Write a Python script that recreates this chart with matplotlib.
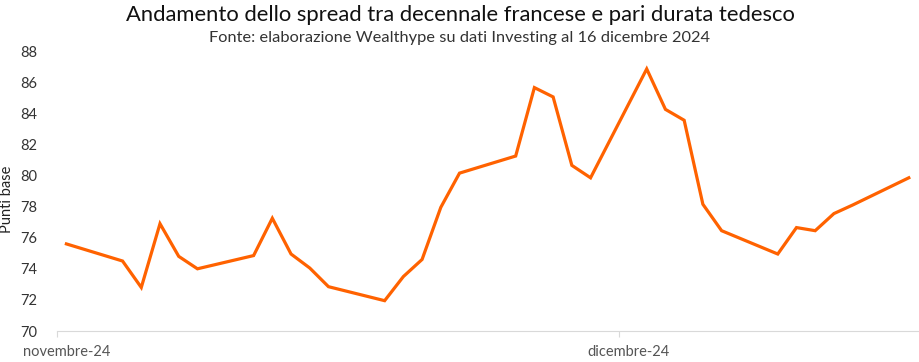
import numpy as np
import matplotlib.pyplot as plt
import matplotlib.dates as mdates

# business days, Nov 1 - Dec 16 2024
dates = np.array([
    "2024-11-01", "2024-11-04", "2024-11-05", "2024-11-06", "2024-11-07", "2024-11-08",
    "2024-11-11", "2024-11-12", "2024-11-13", "2024-11-14", "2024-11-15",
    "2024-11-18", "2024-11-19", "2024-11-20", "2024-11-21", "2024-11-22",
    "2024-11-25", "2024-11-26", "2024-11-27", "2024-11-28", "2024-11-29",
    "2024-12-02", "2024-12-03", "2024-12-04", "2024-12-05", "2024-12-06",
    "2024-12-09", "2024-12-10", "2024-12-11", "2024-12-12", "2024-12-13",
    "2024-12-16",
], dtype="datetime64[D]")
spread = [
    75.6, 74.5, 72.8, 76.9, 74.8, 74.0,
    74.85, 77.25, 74.95, 74.05, 72.85,
    71.95, 73.5, 74.6, 77.95, 80.15,
    81.25, 85.65, 85.05, 80.65, 79.85,
    86.85, 84.25, 83.55, 78.15, 76.45,
    74.95, 76.65, 76.45, 77.55, 78.1,
    79.85,
]
tick_dates = np.array(["2024-11-01", "2024-12-01"], dtype="datetime64[D]")
tick_labels = ["novembre-24", "dicembre-24"]

title = "Andamento dello spread tra decennale francese e pari durata tedesco"
subtitle = "Fonte: elaborazione Wealthype su dati Investing al 16 dicembre 2024"

ORANGE = "#FF6200"
plt.rcParams["font.family"] = ["Lato", "DejaVu Sans"]


def to_num(d):
    return mdates.date2num(d.astype("datetime64[s]").astype(object))


fig = plt.figure(figsize=(9.2, 3.62), dpi=100)
ax = fig.add_axes([0.062, 0.0856, 0.936, 0.7734])

# Excel-style date axis: points sit in the middle of their day
x = to_num(dates) + 0.5
ax.plot(x, spread, color=ORANGE, lw=2.3, solid_joinstyle="miter")

ax.set_xlim(to_num(np.datetime64("2024-11-01")), to_num(np.datetime64("2024-12-17")))
ax.set_ylim(70, 88)
ax.set_yticks(range(70, 89, 2))

ticks = to_num(tick_dates)
ax.set_xticks(ticks)
ax.set_xticklabels([])
ax.set_xticks(ticks + 0.5, minor=True)
ax.set_xticklabels(tick_labels, minor=True, fontsize=10.5, color="#555555")
ax.tick_params(axis="x", which="minor", length=0, pad=10)
ax.tick_params(axis="x", which="major", length=4, color="#d9d9d9")

for s in ["top", "right", "left"]:
    ax.spines[s].set_visible(False)
ax.spines["bottom"].set_color("#d9d9d9")
ax.tick_params(axis="y", length=0, labelsize=10.5, labelcolor="#333333", pad=14)

ax.set_ylabel("Punti base", fontsize=10.5, color="#222222")
ax.yaxis.set_label_coords(-0.05, 0.47)

fig.text(0.5, 0.958, title, ha="center", va="center", fontsize=15.8, color="#111111")
fig.text(0.5, 0.894, subtitle, ha="center", va="center", fontsize=11.8, color="#333333")

fig.savefig("out.png", dpi=100)
